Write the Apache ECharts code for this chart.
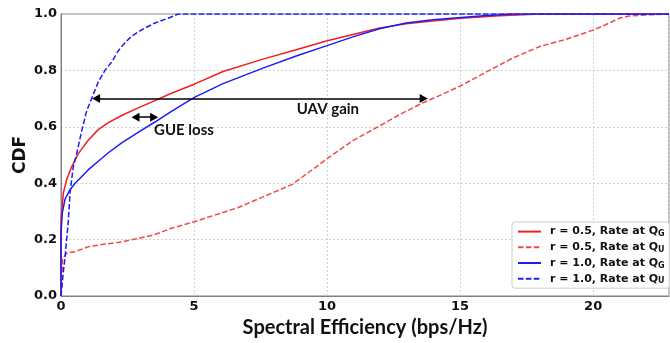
<!DOCTYPE html>
<html>
<head>
<meta charset="utf-8">
<script src="https://cdn.jsdelivr.net/npm/echarts@6/dist/echarts.min.js"></script>
<style>
  html, body { margin: 0; padding: 0; background: #fff; }
  #chart { width: 670px; height: 343px; }
</style>
</head>
<body>
<div id="chart"></div>
<script>
// CDF of spectral efficiency (bps/Hz) for ground users (Q_G) and UAVs (Q_U)
const xMax = 22.85;
const xTicks = [0, 5, 10, 15, 20];
const yTicks = [0, 0.2, 0.4, 0.6, 0.8, 1.0];

// r = 0.5, rate at Q_G
const r05G_x = [0, 0, 0.03, 0.09, 0.21, 0.4, 0.65, 1.03, 1.4, 1.78, 2.28, 2.9, 3.53, 4.15, 5.03, 6.09, 7.59, 8.84, 9.97, 10.97, 11.97, 12.97, 13.97, 15.03, 16.47, 18.0, 22.85];
const r05G_y = [0, 0.27, 0.30, 0.366, 0.412, 0.458, 0.505, 0.553, 0.59, 0.615, 0.64, 0.667, 0.693, 0.719, 0.752, 0.796, 0.84, 0.873, 0.904, 0.927, 0.95, 0.965, 0.975, 0.985, 0.994, 1.0, 1.0];

// r = 0.5, rate at Q_U
const r05U_x = [0, 0.03, 0.06, 0.21, 0.53, 1.03, 1.65, 2.28, 2.9, 3.53, 4.15, 5.03, 6.64, 8.7, 10.0, 10.97, 11.97, 12.72, 13.6, 14.33, 15.03, 16.1, 16.96, 17.97, 18.97, 19.97, 20.47, 20.98, 21.35, 22.1, 22.85];
const r05U_y = [0, 0.06, 0.13, 0.152, 0.157, 0.175, 0.184, 0.192, 0.204, 0.218, 0.24, 0.264, 0.313, 0.396, 0.487, 0.551, 0.603, 0.643, 0.685, 0.715, 0.746, 0.80, 0.843, 0.884, 0.91, 0.942, 0.962, 0.985, 0.993, 0.997, 1.0];

// r = 1.0, rate at Q_G
const r10G_x = [0, 0, 0.05, 0.15, 0.34, 0.53, 0.78, 1.03, 1.4, 1.78, 2.28, 2.9, 3.53, 4.15, 5.03, 6.09, 7.59, 8.84, 9.97, 10.97, 11.97, 12.97, 13.97, 15.03, 16.0, 17.0, 22.85];
const r10G_y = [0, 0.22, 0.296, 0.343, 0.377, 0.40, 0.424, 0.448, 0.478, 0.508, 0.543, 0.58, 0.617, 0.655, 0.705, 0.753, 0.808, 0.851, 0.887, 0.919, 0.948, 0.968, 0.98, 0.988, 0.995, 1.0, 1.0];

// r = 1.0, rate at Q_U
const r10U_x = [0, 0.09, 0.15, 0.27, 0.34, 0.46, 0.59, 0.78, 0.96, 1.15, 1.4, 1.65, 1.9, 2.15, 2.4, 2.65, 3.03, 3.53, 4.03, 4.4, 22.85];
const r10U_y = [0, 0.088, 0.135, 0.26, 0.366, 0.458, 0.505, 0.586, 0.655, 0.70, 0.759, 0.80, 0.829, 0.869, 0.898, 0.921, 0.944, 0.968, 0.985, 1.0, 1.0];

// annotations: double arrows and their captions
const uavArrow = { x0: 1.32, x1: 13.63, y: 0.7 };
const gueArrow = { x0: 2.8, x1: 3.5, y: 0.634 };
const uavText = { x: 10.03, y: 0.663, text: 'UAV gain' };
const gueText = { x: 4.62, y: 0.588, text: 'GUE loss' };

const seriesNames = ['r = 0.5, Rate at Q_G', 'r = 0.5, Rate at Q_U', 'r = 1.0, Rate at Q_G', 'r = 1.0, Rate at Q_U'];

const zip = (xs, ys) => xs.map((x, i) => [x, ys[i]]);

const RED = '#f01e1e';
const RED_D = '#f04a4a';
const BLUE = '#1c1cf5';
const dash = [5.5, 2.4];

function lineSeries(name, data, color, dashed) {
  return {
    name: name,
    type: 'line',
    data: data,
    showSymbol: false,
    symbol: 'none',
    smooth: false,
    silent: true,
    z: 3,
    lineStyle: { color: color, width: 1.5, type: dashed ? dash : 'solid' },
    itemStyle: { color: color }
  };
}

const annFont = { fontFamily: 'Lato', fontWeight: 'bold', fontSize: 15, color: '#111' };

const chart = echarts.init(document.getElementById('chart'), null, { renderer: 'canvas' });

chart.setOption({
  animation: false,
  backgroundColor: '#fff',
  grid: {
    left: 61, right: 1, top: 14, bottom: 41,
    show: true, borderColor: '#808080', borderWidth: 1
  },
  xAxis: {
    type: 'value', min: 0, max: xMax, interval: 5,
    name: 'Spectral Efficiency (bps/Hz)',
    nameLocation: 'middle', nameGap: 22, nameMoveOverlap: false,
    nameTextStyle: { fontFamily: 'Lato', fontWeight: 'bold', fontSize: 20, color: '#111' },
    axisLine: { lineStyle: { color: '#808080', width: 1 } },
    axisTick: { show: false },
    axisLabel: {
      margin: 4, showMaxLabel: false,
      fontFamily: 'DejaVu Sans', fontWeight: 'bold', fontSize: 13, color: '#111',
      formatter: v => (xTicks.includes(v) ? String(v) : '')
    },
    splitLine: { show: true, lineStyle: { color: '#d0d0d0', type: [2, 2], width: 1 } }
  },
  yAxis: {
    type: 'value', min: 0, max: 1, interval: 0.2,
    name: 'CDF',
    nameLocation: 'middle', nameGap: 32, nameRotate: 90, nameMoveOverlap: false,
    nameTextStyle: { fontFamily: 'DejaVu Sans', fontWeight: 'bold', fontSize: 17, color: '#111' },
    axisLine: { show: true, lineStyle: { color: '#808080', width: 1 } },
    axisTick: { show: false },
    axisLabel: {
      margin: 4,
      fontFamily: 'DejaVu Sans', fontWeight: 'bold', fontSize: 13, color: '#111',
      formatter: v => (yTicks.some(t => Math.abs(t - v) < 1e-9) ? v.toFixed(1) : '')
    },
    splitLine: { show: true, lineStyle: { color: '#d0d0d0', type: [2, 2], width: 1 } }
  },
  legend: {
    data: seriesNames,
    orient: 'vertical',
    left: 512, top: 222,
    padding: [4, 5, 3, 5],
    itemWidth: 23, itemHeight: 14, itemGap: 3.6,
    itemStyle: { opacity: 0 },
    backgroundColor: 'rgba(255,255,255,0.85)',
    borderColor: '#cccccc', borderWidth: 1, borderRadius: 3,
    selectedMode: false,
    textStyle: {
      fontFamily: 'DejaVu Sans', fontWeight: 'bold', fontSize: 11, color: '#111',
      padding: [0, 0, 0, 4],
      rich: {
        s: { fontFamily: 'DejaVu Sans', fontWeight: 'bold', fontSize: 8, color: '#111', padding: [5, 0, 0, 0] }
      }
    },
    formatter: name => name.replace(/Q_(\w)/, 'Q{s|$1}')
  },
  series: [
    lineSeries(seriesNames[0], zip(r05G_x, r05G_y), RED, false),
    lineSeries(seriesNames[1], zip(r05U_x, r05U_y), RED_D, true),
    lineSeries(seriesNames[2], zip(r10G_x, r10G_y), BLUE, false),
    lineSeries(seriesNames[3], zip(r10U_x, r10U_y), BLUE, true),
    {
      name: 'annotations',
      type: 'line',
      data: [],
      silent: true,
      z: 5,
      markLine: {
        silent: true,
        symbol: ['triangle', 'triangle'],
        symbolSize: [9, 8],
        label: { show: false },
        lineStyle: { color: '#000', width: 1.5, type: 'solid' },
        emphasis: { disabled: true },
        data: [
          [{ coord: [uavArrow.x0, uavArrow.y] }, { coord: [uavArrow.x1, uavArrow.y] }],
          [{ coord: [gueArrow.x0, gueArrow.y] }, { coord: [gueArrow.x1, gueArrow.y] }]
        ]
      },
      markPoint: {
        silent: true,
        symbol: 'circle',
        symbolSize: 0,
        label: Object.assign({ show: true, position: 'inside', formatter: '{b}' }, annFont),
        data: [
          { name: uavText.text, coord: [uavText.x, uavText.y] },
          { name: gueText.text, coord: [gueText.x, gueText.y] }
        ]
      }
    }
  ]
});
</script>
</body>
</html>
